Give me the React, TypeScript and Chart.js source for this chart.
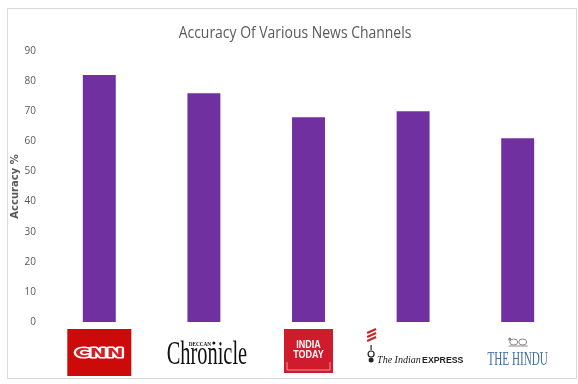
import React, { useEffect, useRef } from "react";
import { Chart, registerables } from "chart.js";

Chart.register(...registerables);

const categories = ["CNN", "Deccan Chronicle", "India Today", "The Indian Express", "The Hindu"];
const accuracy = [82, 76, 68, 70, 61];
const yMin = 0;
const yMax = 90;
const yStep = 10;
const chartTitle = "Accuracy Of Various News Channels";
const yAxisTitle = "Accuracy %";

const barColor = "#7030A0";
const textGray = "#595959";

function drawLogo(ctx: CanvasRenderingContext2D, i: number, cx: number, top: number) {
  ctx.save();
  if (i === 0) {
    // CNN
    const w = 64, h = 47;
    ctx.fillStyle = "#cc0a0a";
    ctx.fillRect(cx - w / 2, top + 7, w, h);
    ctx.save();
    ctx.translate(cx, top + 7 + h / 2 + 1);
    ctx.scale(1.55, 1);
    ctx.font = "bold 13px 'DejaVu Sans'";
    ctx.textAlign = "center";
    ctx.textBaseline = "middle";
    ctx.lineWidth = 3;
    ctx.strokeStyle = "#ffffff";
    ctx.lineJoin = "round";
    ctx.strokeText("CNN", 0, 0);
    ctx.fillStyle = "#d42020";
    ctx.fillText("CNN", 0, 0);
    ctx.restore();
  } else if (i === 1) {
    // Deccan Chronicle
    ctx.save();
    ctx.translate(cx + 3, top + 42);
    ctx.scale(0.6, 1);
    ctx.font = "34px 'Liberation Serif'";
    ctx.textAlign = "center";
    ctx.textBaseline = "alphabetic";
    ctx.fillStyle = "#111111";
    ctx.fillText("Chronicle", 0, 0);
    ctx.restore();
    ctx.save();
    ctx.translate(cx - 4, top + 24);
    ctx.scale(0.75, 1);
    ctx.font = "bold 7px 'Liberation Serif'";
    ctx.textAlign = "center";
    ctx.fillStyle = "#111111";
    ctx.fillText("DECCAN", 0, 0);
    ctx.restore();
    ctx.beginPath();
    ctx.fillStyle = "#111111";
    ctx.arc(cx + 10, top + 21, 1.5, 0, Math.PI * 2);
    ctx.fill();
  } else if (i === 2) {
    // India Today
    const w = 49, h = 44;
    const x0 = cx - w / 2, y0 = top + 7;
    ctx.fillStyle = "#cf1b2b";
    ctx.fillRect(x0, y0, w, h);
    ctx.strokeStyle = "rgba(255,255,255,0.7)";
    ctx.lineWidth = 0.8;
    ctx.beginPath();
    ctx.moveTo(x0 + 3, y0 + 33);
    ctx.lineTo(x0 + 3, y0 + h - 3);
    ctx.lineTo(x0 + w - 3, y0 + h - 3);
    ctx.lineTo(x0 + w - 3, y0 + 33);
    ctx.stroke();
    ctx.fillStyle = "#ffffff";
    ctx.textAlign = "center";
    ctx.textBaseline = "alphabetic";
    ctx.save();
    ctx.translate(cx, y0 + 19);
    ctx.scale(0.9, 1);
    ctx.font = "bold 10px 'Liberation Sans'";
    ctx.fillText("INDIA", 0, 0);
    ctx.restore();
    ctx.save();
    ctx.translate(cx, y0 + 29);
    ctx.scale(0.9, 1);
    ctx.font = "bold 10px 'Liberation Sans'";
    ctx.fillText("TODAY", 0, 0);
    ctx.restore();
  } else if (i === 3) {
    // The Indian Express
    const ex = cx - 42;
    ctx.strokeStyle = "#d02020";
    ctx.lineWidth = 2;
    for (let k = 0; k < 3; k++) {
      ctx.beginPath();
      ctx.moveTo(ex - 4, top + 11 + k * 4);
      ctx.lineTo(ex + 5, top + 7 + k * 4);
      ctx.stroke();
    }
    ctx.strokeStyle = "#222222";
    ctx.lineWidth = 1.2;
    ctx.beginPath();
    ctx.moveTo(ex, top + 23);
    ctx.lineTo(ex, top + 28);
    ctx.stroke();
    ctx.beginPath();
    ctx.arc(ex, top + 32, 3, 0, Math.PI * 2);
    ctx.stroke();
    ctx.beginPath();
    ctx.fillStyle = "#222222";
    ctx.arc(ex, top + 38, 2.5, 0, Math.PI * 2);
    ctx.fill();
    ctx.textBaseline = "alphabetic";
    ctx.textAlign = "left";
    ctx.fillStyle = "#222222";
    ctx.font = "italic 10px 'Liberation Serif'";
    ctx.fillText("The Indian", cx - 36, top + 41);
    ctx.save();
    ctx.translate(cx + 9, top + 41);
    ctx.scale(0.92, 1);
    ctx.font = "bold 9.5px 'Liberation Sans'";
    ctx.fillText("EXPRESS", 0, 0);
    ctx.restore();
  } else if (i === 4) {
    // The Hindu
    ctx.fillStyle = "#8a8a8a";
    ctx.strokeStyle = "#8a8a8a";
    ctx.lineWidth = 1;
    const ey = top + 20;
    ctx.beginPath();
    ctx.ellipse(cx - 4, ey, 4, 3, 0, 0, Math.PI * 2);
    ctx.stroke();
    ctx.beginPath();
    ctx.ellipse(cx + 5, ey, 4, 3, 0, 0, Math.PI * 2);
    ctx.stroke();
    ctx.beginPath();
    ctx.moveTo(cx - 9, ey + 4);
    ctx.lineTo(cx + 10, ey + 4);
    ctx.stroke();
    ctx.beginPath();
    ctx.arc(cx - 8, ey - 3, 1.5, 0, Math.PI * 2);
    ctx.fill();
    ctx.save();
    ctx.translate(cx, top + 43);
    ctx.scale(0.62, 1);
    ctx.font = "18px 'Liberation Serif'";
    ctx.textAlign = "center";
    ctx.textBaseline = "alphabetic";
    ctx.fillStyle = "#3f6f9f";
    ctx.fillText("THE HINDU", 0, 0);
    ctx.restore();
  }
  ctx.restore();
}

const framePlugin = {
  id: "frame",
  beforeDraw(chart: any) {
    const ctx = chart.ctx as CanvasRenderingContext2D;
    ctx.save();
    ctx.fillStyle = "#ffffff";
    ctx.fillRect(0, 0, chart.width, chart.height);
    ctx.strokeStyle = "#d9d9d9";
    ctx.lineWidth = 1;
    ctx.strokeRect(7.5, 8.5, 569, 370);
    ctx.restore();
  },
  afterDraw(chart: any) {
    const ctx = chart.ctx as CanvasRenderingContext2D;
    const xs = chart.scales.x;
    const top = chart.chartArea.bottom;
    categories.forEach((_, i) => {
      drawLogo(ctx, i, xs.getPixelForValue(i), top);
    });
    // title (narrow, Calibri-Light-like)
    ctx.save();
    ctx.translate(295, 33);
    ctx.scale(0.82, 1);
    ctx.font = "17px 'Open Sans'";
    ctx.fillStyle = textGray;
    ctx.textAlign = "center";
    ctx.textBaseline = "middle";
    ctx.fillText(chartTitle, 0, 0);
    ctx.restore();
  },
};

export default function App() {
  const ref = useRef<HTMLCanvasElement | null>(null);
  useEffect(() => {
    if (!ref.current) return;
    const chart = new Chart(ref.current, {
      type: "bar",
      data: {
        labels: categories,
        datasets: [
          {
            label: yAxisTitle,
            data: accuracy,
            backgroundColor: barColor,
            borderWidth: 0,
            barPercentage: 0.63,
            categoryPercentage: 0.5,
          },
        ],
      },
      options: {
        responsive: false,
        animation: false,
        layout: { padding: { top: 51, right: 8, bottom: 62, left: 0 } },
        plugins: {
          legend: { display: false },
          tooltip: { enabled: false },
          title: { display: false },
        },
        scales: {
          x: {
            display: false,
            grid: { display: false },
          },
          y: {
            min: yMin,
            max: yMax,
            afterFit: (scale: any) => {
              scale.width = 47;
            },
            ticks: {
              stepSize: yStep,
              color: textGray,
              padding: 11,
              font: { family: "'Open Sans'", size: 10 },
            },
            grid: { display: false, drawTicks: false },
            border: { display: false },
            title: {
              display: true,
              text: yAxisTitle,
              color: textGray,
              font: { family: "'DejaVu Sans'", size: 10, weight: "bold" },
              padding: { top: 9, bottom: 0 },
            },
          },
        },
      },
      plugins: [framePlugin],
    });
    return () => chart.destroy();
  }, []);
  return (
    <div style={{ position: "fixed", left: 0, top: 0, width: 578, height: 384 }}>
      <canvas ref={ref} width={578} height={384} style={{ display: "block" }} />
    </div>
  );
}
